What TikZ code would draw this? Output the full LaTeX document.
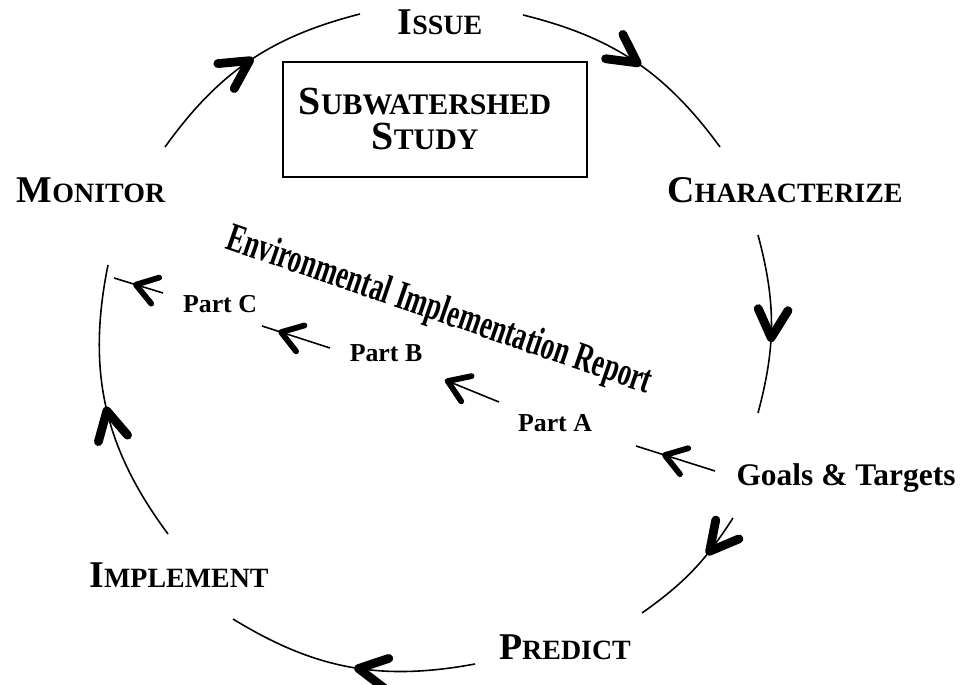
\documentclass[tikz,border=0pt]{standalone}
\usepackage{fontspec}
\setmainfont{Liberation Serif}
\usetikzlibrary{arrows.meta,decorations.markings}

\newcommand{\stagesc}[2]{{\fontsize{21.5}{24}\selectfont #1}{\fontsize{15.9}{24}\selectfont #2}}
\newcommand{\boxsc}[2]{{\fontsize{22.7}{19.8}\selectfont #1}{\fontsize{17}{19.8}\selectfont #2}}

\tikzset{
  cyctip/.tip={Straight Barb[length=16pt, width=17pt, line width=5pt, round]},
  reptip/.tip={Straight Barb[length=11.5pt, width=15.5pt, line width=3.3pt, round]}
}

\begin{document}
\begin{tikzpicture}[x=0.02cm, y=0.02cm,
  stage/.style={font=\bfseries, anchor=base, inner sep=0pt},
  part/.style={font=\bfseries\fontsize{14.7}{17}\selectfont, anchor=base, inner sep=0pt},
  cycarc/.style={line width=0.9pt, postaction={decorate},
    decoration={markings, mark=at position #1 with {\arrow{cyctip}}}},
  repline/.style={line width=0.9pt, postaction={decorate},
    decoration={markings, mark=at position #1 with {\arrow{reptip}}}}]
  \useasboundingbox (0,0) rectangle (964,-685);

  % stages of the cycle
  \node[stage] (issue) at (440,-35) {\stagesc{I}{SSUE}};
  \node[stage] (charact) at (785,-203) {\stagesc{C}{HARACTERIZE}};
  \node[stage, font=\bfseries\fontsize{17.9}{20}\selectfont] (goals) at (846,-486) {Goals \& Targets};
  \node[stage] (predict) at (565,-660) {\stagesc{P}{REDICT}};
  \node[stage] (implement) at (179,-588) {\stagesc{I}{MPLEMENT}};
  \node[stage] (monitor) at (91,-203) {\stagesc{M}{ONITOR}};

  \draw[line width=0.6pt] (283,-62) rectangle (587,-177);
  \node[align=center, inner sep=0pt, font=\bfseries\fontsize{17}{19.8}\selectfont]
        (study) at (425,-119) {\boxsc{S}{UBWATERSHED}\\\boxsc{S}{TUDY}};

  % report and its parts
  \node[anchor=base, rotate=-19, inner sep=0pt, font=\bfseries\fontsize{23}{25}\selectfont]
        (report) at (436,-321) {\scalebox{0.66}[1]{Environmental Implementation Report}};
  \node[part] (parta) at (555,-432) {Part A};
  \node[part] (partb) at (386,-362) {Part B};
  \node[part] (partc) at (220,-313) {Part C};

  % ends of the arcs
  \coordinate (m1) at (165,-147);  \coordinate (i1) at (360,-14);
  \coordinate (i2) at (523,-15);   \coordinate (c1) at (720,-147);
  \coordinate (c2) at (758,-235);  \coordinate (g1) at (758,-413);
  \coordinate (g2) at (733,-518);  \coordinate (p1) at (642,-613);
  \coordinate (p2) at (475,-664);  \coordinate (im1) at (233,-619);
  \coordinate (im2) at (168,-534); \coordinate (m2) at (108,-265);

  \draw[cycarc=0.52] (m1) to[bend left=20] (i1);
  \draw[cycarc=0.53] (i2) to[bend left=20] (c1);
  \draw[cycarc=0.6] (c2) to[bend left=15] (g1);
  \draw[cycarc=0.34] (g2) to[bend left=11] (p1);
  \draw[cycarc=0.48] (p2) to[bend left=21] (im1);
  \draw[cycarc=0.5] (im2) to[bend left=24] (m2);

  % report line
  \coordinate (ra1) at (715,-471); \coordinate (ra2) at (636,-446);
  \coordinate (rb1) at (499,-402); \coordinate (rb2) at (445,-380);
  \coordinate (rc1) at (330,-348); \coordinate (rc2) at (262,-326);
  \coordinate (rd1) at (163,-293); \coordinate (rd2) at (114,-278);

  \draw[repline=0.67] (ra1) -- (ra2);
  \draw[repline=1] (rb1) -- (rb2);
  \draw[repline=0.76] (rc1) -- (rc2);
  \draw[repline=0.61] (rd1) -- (rd2);
\end{tikzpicture}
\end{document}
